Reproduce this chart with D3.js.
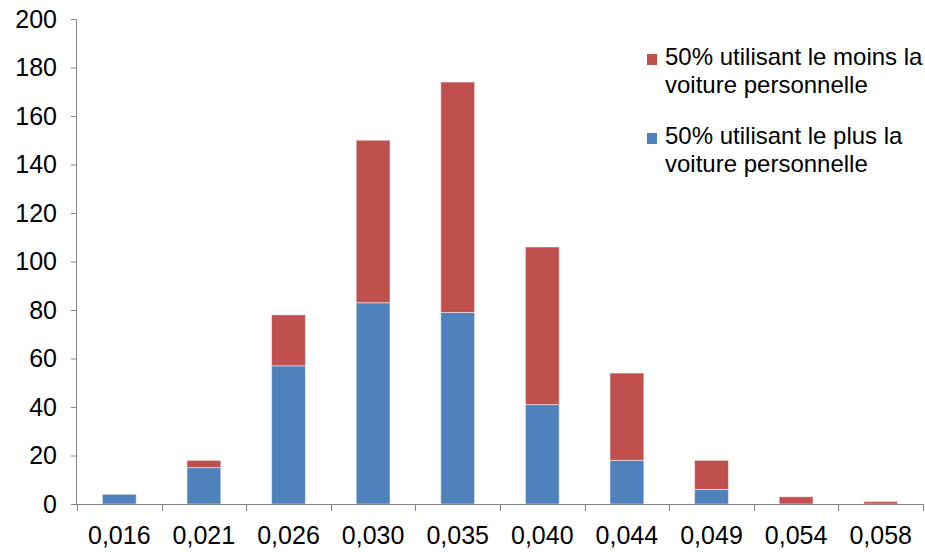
<!DOCTYPE html>
<html><head><meta charset="utf-8">
<script src="https://cdn.jsdelivr.net/npm/d3@7/dist/d3.min.js"></script>
<style>body{margin:0;background:#fff}svg{display:block}</style>
</head><body><svg id="c" width="925" height="552"></svg>
<script>
const categories = ["0,016","0,021","0,026","0,030","0,035","0,040","0,044","0,049","0,054","0,058"];
const plusValues = [4,15,57,83,79,41,18,6,0,0];
const moinsValues = [0,3,21,67,95,65,36,12,3,1];
const yTicks = [0,20,40,60,80,100,120,140,160,180,200];
const seriesNames = ["50% utilisant le plus la voiture personnelle","50% utilisant le moins la voiture personnelle"];
const colors = ["#4F81BD","#C0504D"];

(function(){
const svg = d3.select("#c");
const font = "'Liberation Sans', Arial, sans-serif";
const mLeft = 77, mRight = 923, mTop = 19, mBottom = 504;
const x = d3.scaleBand().domain(categories).range([mLeft, mRight]).paddingInner(0.6).paddingOuter(0.3);
const y = d3.scaleLinear().domain([0,200]).range([mBottom, mTop]);

const data = categories.map((c,i)=>({cat:c, plus:plusValues[i], moins:moinsValues[i]}));
const stack = d3.stack().keys(["plus","moins"])(data);

svg.append("g").selectAll("g").data(stack).join("g")
  .attr("fill",(d,i)=>colors[i])
  .selectAll("rect").data(d=>d.filter(s=>s[1]-s[0]>0)).join("rect")
  .attr("x",d=>x(d.data.cat))
  .attr("width",x.bandwidth())
  .attr("y",d=>y(d[1]))
  .attr("height",d=>y(d[0])-y(d[1]))
  .attr("stroke","rgba(255,255,255,0.5)").attr("stroke-width",1);

// Y axis
const yAxis = svg.append("g").attr("transform",`translate(${mLeft},0)`)
  .call(d3.axisLeft(y).tickValues(yTicks).tickSize(6).tickPadding(14).tickFormat(d3.format("d")));
yAxis.select(".domain").attr("stroke","#868686").attr("d",`M-0.5,${mTop}V${mBottom}`);
yAxis.selectAll(".tick line").attr("stroke","#868686");
yAxis.selectAll("text").attr("font-family",font).attr("font-size",25).attr("fill","#000");

// X axis
const xBounds = d3.scaleLinear().domain([0,categories.length]).range([mLeft,mRight]);
const xa = svg.append("g").attr("transform",`translate(0,${mBottom})`);
xa.append("line").attr("x1",mLeft-6).attr("x2",mRight).attr("y1",0.5).attr("y2",0.5).attr("stroke","#868686");
xa.selectAll("line.t").data(d3.range(categories.length+1)).join("line").attr("class","t")
  .attr("x1",d=>Math.round(xBounds(d))+0.5).attr("x2",d=>Math.round(xBounds(d))+0.5)
  .attr("y1",0).attr("y2",7).attr("stroke","#868686");
xa.selectAll("text").data(categories).join("text")
  .attr("x",d=>x(d)+x.bandwidth()/2).attr("y",40)
  .attr("text-anchor","middle").attr("font-family",font).attr("font-size",25).attr("fill","#000")
  .text(d=>d);

// Legend
const legend = [
  {color:colors[1], lines:["50% utilisant le moins la","voiture personnelle"], y:65},
  {color:colors[0], lines:["50% utilisant le plus la","voiture personnelle"], y:144}
];
const lg = svg.append("g");
legend.forEach(l=>{
  lg.append("rect").attr("x",647).attr("y",l.y-11).attr("width",10).attr("height",11).attr("fill",l.color);
  l.lines.forEach((t,j)=>{
    lg.append("text").attr("x",665).attr("y",l.y+j*28).attr("font-family",font).attr("font-size",24).attr("fill","#000").text(t);
  });
});
})();
</script></body></html>
